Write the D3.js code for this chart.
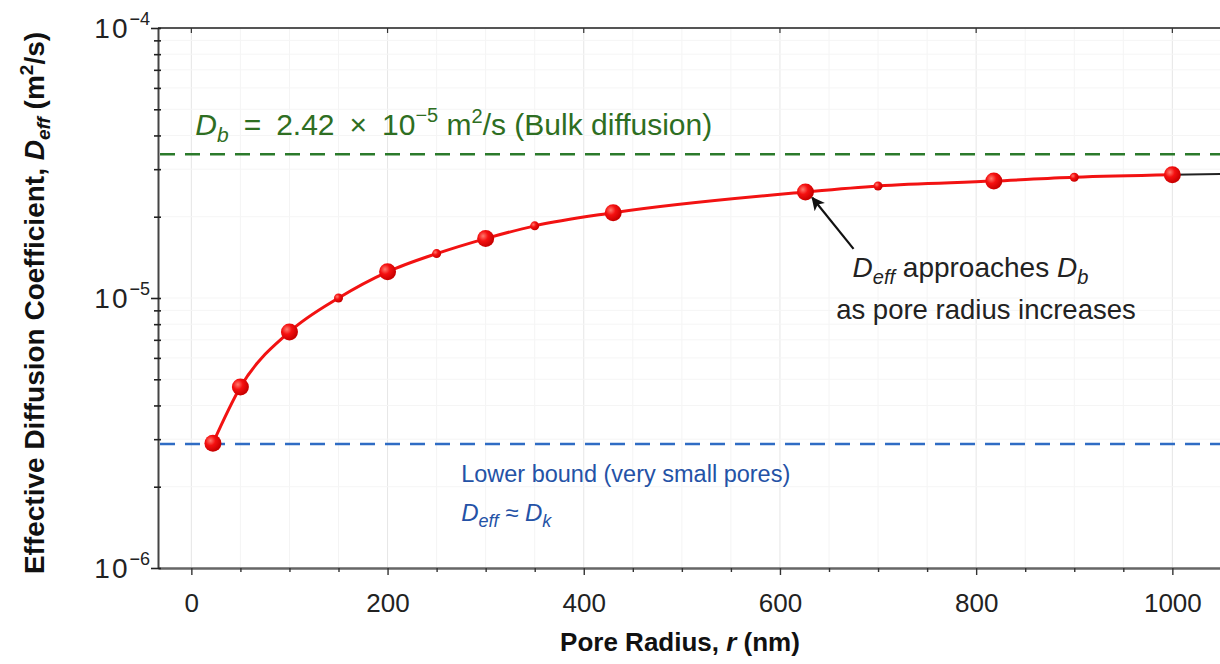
<!DOCTYPE html>
<html>
<head>
<meta charset="utf-8">
<script src="https://cdn.jsdelivr.net/npm/d3@7"></script>
<style>
  body { margin: 0; background: #fff; }
  svg { display: block; font-family: "Liberation Sans", Arial, Helvetica, sans-serif; }
</style>
</head>
<body>
<svg id="chart" width="1220" height="664"></svg>
<script>
// pore radius (nm) and effective diffusion coefficient (m^2/s)
var radius = [22, 50, 100, 150, 200, 250, 300, 350, 430, 626, 700, 818, 900, 1000]
var deff = [2.9e-6, 4.68e-6, 7.49e-6, 1.0e-5, 1.25e-5, 1.46e-5, 1.66e-5, 1.85e-5, 2.07e-5, 2.47e-5, 2.6e-5, 2.71e-5, 2.8e-5, 2.86e-5]
var keyPoint = [true, true, true, false, true, false, true, false, true, true, false, true, false, true]

// black continuation past the last point
var tailRadius = [1000, 1120]
var tailDeff = [2.86e-5, 2.9e-5]

var bulkLine = 3.41e-5      // drawn position of D_b line
var lowerLine = 2.88e-6     // drawn position of lower bound line

var xTicks = [0, 200, 400, 600, 800, 1000]
var yMajor = [-4, -5, -6]

var svg = d3.select('#chart')

var xScale = d3.scaleLinear()
    .domain([-34, 1120])
    .range([158, 158 + 1154 * 0.981])
var yScale = d3.scaleLog()
    .domain([1e-6, 1e-4])
    .range([568, 28])

var xLeft = xScale.range()[0], xRight = xScale.range()[1]
var yTop = 28, yBottom = 568

var defs = svg.append('defs')
var grad = defs.append('radialGradient')
    .attr('id', 'ball')
    .attr('cx', '35%').attr('cy', '35%').attr('r', '65%')
grad.append('stop').attr('offset', '0%').attr('stop-color', '#ff7a6e')
grad.append('stop').attr('offset', '45%').attr('stop-color', '#f51010')
grad.append('stop').attr('offset', '100%').attr('stop-color', '#c80000')

defs.append('marker')
    .attr('id', 'arrow')
    .attr('viewBox', '0 0 10 10')
    .attr('refX', 9).attr('refY', 5)
    .attr('markerWidth', 7).attr('markerHeight', 6)
    .attr('orient', 'auto')
  .append('path')
    .attr('d', 'M0,0 L10,5 L0,10 L2.5,5 Z')
    .attr('fill', '#111')

// grid
var minorX = d3.range(0, 1101, 50)
svg.append('g')
    .selectAll('line.minor')
    .data(minorX)
    .join('line')
      .attr('x1', d => xScale(d)).attr('x2', d => xScale(d))
      .attr('y1', yTop).attr('y2', yBottom)
      .attr('stroke', d => d % 200 == 0 ? '#e6e6e6' : '#f4f4f4')
      .attr('stroke-width', 1)

var yGrid = []
for (let e = -6; e < -4; e++) {
    for (let m = 1; m < 10; m++) yGrid.push(m * Math.pow(10, e))
}
svg.append('g')
    .selectAll('line')
    .data(yGrid)
    .join('line')
      .attr('x1', xLeft).attr('x2', xRight)
      .attr('y1', d => yScale(d)).attr('y2', d => yScale(d))
      .attr('stroke', '#f5f5f5')
      .attr('stroke-width', 1)

// frame
svg.append('line')
    .attr('x1', xLeft).attr('x2', xRight)
    .attr('y1', yTop).attr('y2', yTop)
    .attr('stroke', '#555').attr('stroke-width', 2)

// x axis
var xAxis = d3.axisBottom(xScale)
    .tickValues(minorX)
    .tickSize(0)
    .tickFormat('')
var gx = svg.append('g')
    .attr('transform', `translate(0, ${yBottom})`)
    .call(xAxis)
gx.select('.domain').attr('stroke', '#666').attr('stroke-width', 2.5)
gx.selectAll('.tick line')
    .attr('y2', d => d % 200 == 0 ? 7 : 4)
    .attr('stroke', '#333').attr('stroke-width', 1.4)
gx.selectAll('.tick')
    .filter(d => xTicks.includes(d))
    .append('text')
      .attr('y', 44)
      .attr('fill', '#222')
      .attr('font-size', 26)
      .attr('text-anchor', 'middle')
      .text(d => d)

// top ticks
svg.append('g')
    .selectAll('line')
    .data(xTicks)
    .join('line')
      .attr('x1', d => xScale(d)).attr('x2', d => xScale(d))
      .attr('y1', yTop).attr('y2', yTop + 5)
      .attr('stroke', '#333').attr('stroke-width', 1.2)

// y axis
var yAxis = d3.axisLeft(yScale)
    .tickValues(yGrid.concat([1e-4]))
    .tickSize(0)
    .tickFormat('')
var gy = svg.append('g')
    .attr('transform', `translate(${xLeft}, 0)`)
    .call(yAxis)
gy.select('.domain').attr('stroke', '#444').attr('stroke-width', 2)
gy.selectAll('.tick line')
    .attr('x1', 3)
    .attr('x2', d => Math.abs(Math.log10(d) - Math.round(Math.log10(d))) < 1e-9 ? -7 : -4)
    .attr('stroke', '#222').attr('stroke-width', 1.6)

var yLab = svg.append('g')
    .selectAll('text')
    .data(yMajor)
    .join('text')
      .attr('x', xLeft - 8)
      .attr('y', d => yScale(Math.pow(10, d)) + 10)
      .attr('text-anchor', 'end')
      .attr('font-size', 28)
      .attr('fill', '#222')
yLab.append('tspan').attr('letter-spacing', 2).text('10')
yLab.append('tspan')
    .attr('font-size', 18)
    .attr('dy', -13)
    .text(d => '\u2212' + Math.abs(d))

// reference lines
svg.append('line')
    .attr('x1', xLeft + 2).attr('x2', xRight)
    .attr('y1', yScale(bulkLine)).attr('y2', yScale(bulkLine))
    .attr('stroke', '#2b7a2b').attr('stroke-width', 2.5)
    .attr('stroke-dasharray', '15 10')
svg.append('line')
    .attr('x1', xLeft + 2).attr('x2', xRight)
    .attr('y1', yScale(lowerLine)).attr('y2', yScale(lowerLine))
    .attr('stroke', '#2f6cc4').attr('stroke-width', 2.5)
    .attr('stroke-dasharray', '15 10')

// curve
var line = d3.line()
    .x(d => xScale(d[0]))
    .y(d => yScale(d[1]))
    .curve(d3.curveMonotoneX)

svg.append('path')
    .datum(d3.zip(tailRadius, tailDeff))
    .attr('d', line)
    .attr('fill', 'none')
    .attr('stroke', '#222')
    .attr('stroke-width', 2)

svg.append('path')
    .datum(d3.zip(radius, deff))
    .attr('d', line)
    .attr('fill', 'none')
    .attr('stroke', '#f21212')
    .attr('stroke-width', 3)

svg.append('g')
    .selectAll('circle')
    .data(d3.zip(radius, deff, keyPoint))
    .join('circle')
      .attr('cx', d => xScale(d[0]))
      .attr('cy', d => yScale(d[1]))
      .attr('r', d => d[2] ? 8.5 : 4.5)
      .attr('fill', 'url(#ball)')

// annotations
var green = svg.append('text')
    .attr('x', xScale(4))
    .attr('y', yScale(bulkLine) - 19)
    .attr('font-size', 30)
    .attr('fill', '#2e6e22')
green.append('tspan').attr('font-style', 'italic').text('D')
green.append('tspan').attr('font-style', 'italic').attr('font-size', 21).attr('dy', 7).text('b')
green.append('tspan').attr('dy', -7).text('\u2002=\u20022.42\u2002\u00d7\u200210')
green.append('tspan').attr('font-size', 20).attr('dy', -13).text('\u22125')
green.append('tspan').attr('dy', 13).text(' m')
green.append('tspan').attr('font-size', 20).attr('dy', -12).text('2')
green.append('tspan').attr('dy', 12).text('/s (Bulk diffusion)')

var blue1 = svg.append('text')
    .attr('x', xScale(275))
    .attr('y', yScale(lowerLine) + 38)
    .attr('font-size', 23.5)
    .attr('fill', '#2452a6')
    .text('Lower bound (very small pores)')
var blue2 = svg.append('text')
    .attr('x', xScale(275))
    .attr('y', yScale(lowerLine) + 77)
    .attr('font-size', 24)
    .attr('fill', '#2452a6')
blue2.append('tspan').attr('font-style', 'italic').text('D')
blue2.append('tspan').attr('font-style', 'italic').attr('font-size', 18).attr('dy', 6).text('eff')
blue2.append('tspan').attr('dy', -6).text(' \u2248 ')
blue2.append('tspan').attr('font-style', 'italic').text('D')
blue2.append('tspan').attr('font-style', 'italic').attr('font-size', 18).attr('dy', 6).text('k')

// arrow to the curve
var arrowFrom = [675, 1.52e-5], arrowTo = [633, 2.35e-5]
svg.append('line')
    .attr('x1', xScale(arrowFrom[0])).attr('y1', yScale(arrowFrom[1]))
    .attr('x2', xScale(arrowTo[0])).attr('y2', yScale(arrowTo[1]))
    .attr('stroke', '#111').attr('stroke-width', 2.2)
    .attr('marker-end', 'url(#arrow)')

var ann1 = svg.append('text')
    .attr('x', xScale(674))
    .attr('y', yScale(arrowFrom[1]) + 28)
    .attr('font-size', 28)
    .attr('fill', '#222')
ann1.append('tspan').attr('font-style', 'italic').text('D')
ann1.append('tspan').attr('font-style', 'italic').attr('font-size', 20).attr('dy', 7).text('eff')
ann1.append('tspan').attr('dy', -7).text(' approaches ')
ann1.append('tspan').attr('font-style', 'italic').text('D')
ann1.append('tspan').attr('font-style', 'italic').attr('font-size', 20).attr('dy', 7).text('b')
svg.append('text')
    .attr('x', xScale(810))
    .attr('y', yScale(arrowFrom[1]) + 70)
    .attr('font-size', 27.5)
    .attr('text-anchor', 'middle')
    .attr('fill', '#222')
    .text('as pore radius increases')

// axis titles
var xt = svg.append('text')
    .attr('x', 680)
    .attr('y', 651)
    .attr('text-anchor', 'middle')
    .attr('font-size', 26)
    .attr('font-weight', 'bold')
    .attr('fill', '#111')
xt.append('tspan').text('Pore Radius, ')
xt.append('tspan').attr('font-style', 'italic').text('r')
xt.append('tspan').text(' (nm)')

var yt = svg.append('text')
    .attr('transform', 'translate(44, 303) rotate(-90)')
    .attr('text-anchor', 'middle')
    .attr('font-size', 28)
    .attr('font-weight', 'bold')
    .attr('fill', '#111')
yt.append('tspan').text('Effective Diffusion Coefficient, ')
yt.append('tspan').attr('font-style', 'italic').text('D')
yt.append('tspan').attr('font-style', 'italic').attr('font-size', 19).attr('dy', 6).text('eff')
yt.append('tspan').attr('dy', -6).text(' (m')
yt.append('tspan').attr('font-size', 19).attr('dy', -11).text('2')
yt.append('tspan').attr('dy', 11).text('/s)')
</script>
</body>
</html>
